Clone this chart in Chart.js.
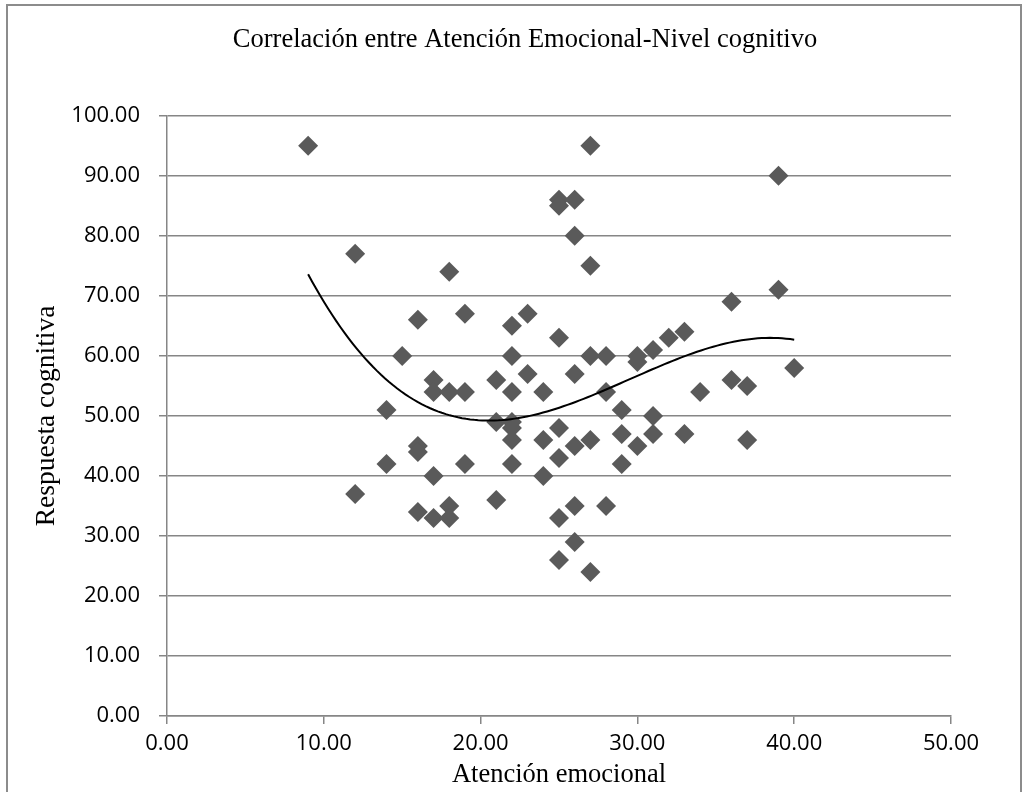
<!DOCTYPE html>
<html>
<head>
<meta charset="utf-8">
<script src="https://cdn.jsdelivr.net/npm/chart.js@4.4.1/dist/chart.umd.min.js"></script>
<style>
  html, body { margin: 0; padding: 0; background: #ffffff; }
  #wrap { width: 1029px; height: 792px; position: relative; }
</style>
</head>
<body>
<div id="wrap"><canvas id="c" width="1029" height="792"></canvas></div>
<script>
// ---- Data ----
const chartTitle = "Correlación entre Atención Emocional-Nivel cognitivo";
const xTitle = "Atención emocional";
const yTitle = "Respuesta cognitiva";

const atencion = [
  9,
  12, 12,
  14, 14,
  15,
  16, 16, 16, 16,
  17, 17, 17, 17,
  18, 18, 18, 18,
  19, 19, 19,
  21, 21, 21,
  22, 22, 22, 22, 22, 22, 22,
  23, 23,
  24, 24, 24,
  25, 25, 25, 25, 25, 25, 25,
  26, 26, 26, 26, 26, 26,
  27, 27, 27, 27, 27,
  28, 28, 28,
  29, 29, 29,
  30, 30, 30,
  31, 31, 31,
  32,
  33, 33,
  34,
  36, 36,
  37, 37,
  39, 39,
  40
];
const respuesta = [
  95,
  77, 37,
  51, 42,
  60,
  66, 45, 44, 34,
  56, 54, 40, 33,
  74, 54, 35, 33,
  67, 54, 42,
  56, 49, 36,
  65, 60, 54, 49, 48, 46, 42,
  67, 57,
  54, 46, 40,
  86, 85, 63, 48, 43, 33, 26,
  86, 80, 57, 45, 35, 29,
  95, 75, 60, 46, 24,
  60, 54, 35,
  51, 47, 42,
  60, 59, 45,
  61, 50, 47,
  63,
  64, 47,
  54,
  69, 56,
  55, 46,
  90, 71,
  58
];
const xTicks = [0, 10, 20, 30, 40, 50];
const yTicks = [0, 10, 20, 30, 40, 50, 60, 70, 80, 90, 100];

// ---- Build scatter points ----
const points = atencion.map((x, i) => ({ x: x, y: respuesta[i] }));

// ---- Polynomial (order 3) least-squares trendline, as in the original ----
function polyFit(xs, ys, order) {
  const n = order + 1;
  const A = Array.from({ length: n }, () => new Array(n + 1).fill(0));
  for (let k = 0; k < xs.length; k++) {
    for (let i = 0; i < n; i++) {
      for (let j = 0; j < n; j++) A[i][j] += Math.pow(xs[k], i + j);
      A[i][n] += ys[k] * Math.pow(xs[k], i);
    }
  }
  for (let i = 0; i < n; i++) {
    let p = i;
    for (let r = i + 1; r < n; r++) { if (Math.abs(A[r][i]) > Math.abs(A[p][i])) p = r; }
    const tmp = A[i]; A[i] = A[p]; A[p] = tmp;
    for (let r = 0; r < n; r++) {
      if (r === i) continue;
      const f = A[r][i] / A[i][i];
      for (let c = i; c <= n; c++) A[r][c] -= f * A[i][c];
    }
  }
  return A.map((row, i) => row[n] / row[i]);
}
const coef = polyFit(atencion, respuesta, 3);
const xMin = Math.min(...atencion), xMax = Math.max(...atencion);
const trend = [];
for (let k = 0; k <= 120; k++) {
  const x = xMin + (xMax - xMin) * k / 120;
  trend.push({ x: x, y: coef[0] + coef[1] * x + coef[2] * x * x + coef[3] * x * x * x });
}

// ---- Outer frame plugin ----
const framePlugin = {
  id: 'frame',
  beforeDraw(chart) {
    const ctx = chart.ctx;
    ctx.save();
    ctx.fillStyle = '#ffffff';
    ctx.fillRect(0, 0, chart.width, chart.height);
    ctx.strokeStyle = '#8c8c8c';
    ctx.lineWidth = 2;
    ctx.strokeRect(7, 5, 1014, 810);
    ctx.restore();
  }
};

const gridColor = '#868686';
const tickFont = { family: "'Open Sans', sans-serif", size: 22 };
const serif = "'Liberation Serif', 'DejaVu Serif', serif";

new Chart(document.getElementById('c'), {
  type: 'scatter',
  data: {
    datasets: [
      {
        label: 'Respuesta cognitiva',
        data: points,
        pointStyle: 'rectRot',
        pointRadius: 10,
        pointHoverRadius: 10,
        backgroundColor: '#5a5a5a',
        borderColor: '#5a5a5a',
        borderWidth: 0,
        order: 2
      },
      {
        type: 'line',
        label: 'Tendencia',
        data: trend,
        borderColor: '#000000',
        borderWidth: 2,
        pointRadius: 0,
        showLine: true,
        fill: false,
        tension: 0,
        order: 1
      }
    ]
  },
  options: {
    responsive: false,
    animation: false,
    devicePixelRatio: 1,
    layout: { padding: { left: 30, right: 9, top: 0, bottom: 0 } },
    plugins: {
      legend: { display: false },
      tooltip: { enabled: false },
      title: {
        display: true,
        text: chartTitle,
        color: '#000000',
        font: { family: serif, size: 26.5, weight: 'normal' },
        padding: { top: 24, bottom: 60 }
      }
    },
    scales: {
      x: {
        type: 'linear',
        min: 0, max: 50,
        afterBuildTicks(s) { s.ticks = xTicks.map(v => ({ value: v })); },
        afterFit(s) { s.height = 792 - 716; },
        grid: { drawOnChartArea: false, drawTicks: true, tickLength: 8, color: gridColor, lineWidth: 1.5 },
        border: { display: true, color: gridColor, width: 1.5 },
        ticks: {
          color: '#000000', font: tickFont, padding: 7,
          callback: v => Number(v).toFixed(2)
        },
        title: {
          display: true, text: xTitle, color: '#000000',
          font: { family: serif, size: 26.5 }, padding: { top: 0, bottom: 1 }
        }
      },
      y: {
        type: 'linear',
        min: 0, max: 100,
        afterBuildTicks(s) { s.ticks = yTicks.map(v => ({ value: v })); },
        afterFit(s) { s.width = 167 - 30; },
        grid: { drawOnChartArea: true, drawTicks: true, tickLength: 8, color: gridColor, lineWidth: 1.5 },
        border: { display: true, color: gridColor, width: 1.5 },
        ticks: {
          color: '#000000', font: tickFont, padding: 19,
          callback: v => Number(v).toFixed(2)
        },
        title: {
          display: true, text: yTitle, color: '#000000',
          font: { family: serif, size: 27.5 }, padding: { top: 0, bottom: 0 }
        }
      },
      ySpacer: {
        type: 'linear',
        position: 'right',
        display: true,
        min: 0, max: 1,
        afterFit(s) { s.width = 78 - 9; },
        grid: { display: false, drawOnChartArea: false },
        border: { display: false },
        ticks: { display: false }
      }
    }
  },
  plugins: [framePlugin]
});
</script>
</body>
</html>
